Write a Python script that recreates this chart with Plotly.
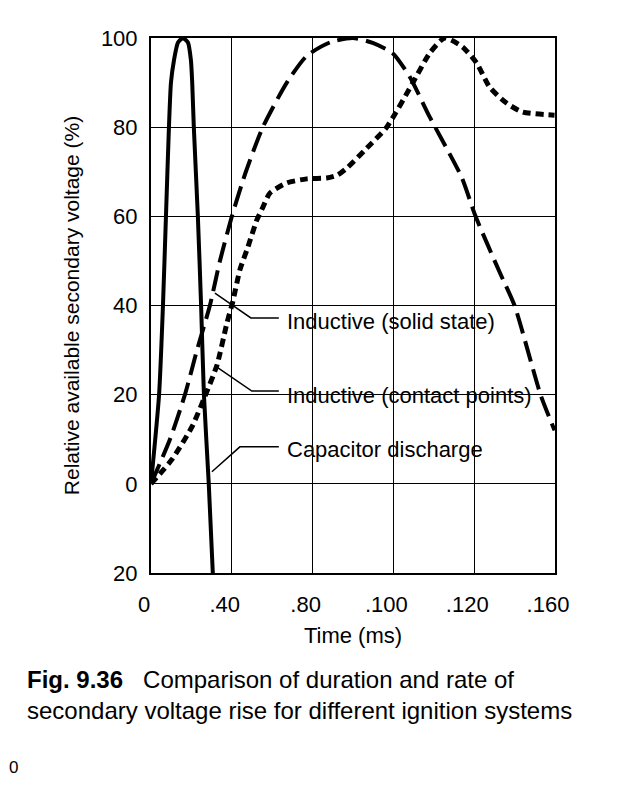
import plotly.graph_objects as go

# x is in grid units (one unit per vertical grid line), labelled as printed
x_ticks = [0, 1, 2, 3, 4, 5]
x_tick_text = ["0", ".40", ".80", ".100", ".120", ".160"]
y_ticks = [-20, 0, 20, 40, 60, 80, 100]
y_tick_text = ["20", "0", "20", "40", "60", "80", "100"]

# Capacitor discharge (solid)
cap_t = [0, 0.10, 0.148, 0.185, 0.222, 0.247, 0.284, 0.334, 0.395, 0.457,
         0.494, 0.51, 0.53, 0.58, 0.62, 0.655, 0.715, 0.765]
cap_v = [0, 20, 40, 60, 80, 90, 95, 99, 100, 99, 95, 90, 80, 60, 40, 20, 0, -20]

# Inductive (solid state) (long dashes)
ss_t = [0, 0.235, 0.42, 0.569, 0.729, 0.853, 1.001, 1.174, 1.384, 1.681, 1.928,
        2.213, 2.497, 2.744, 2.991, 3.202, 3.449, 3.844, 4.017, 4.314, 4.499,
        4.821, 4.994]
ss_v = [0, 10, 20, 30, 40, 50, 60, 70, 80, 90, 96, 99, 100, 98.9, 96.6, 91.3,
        82.3, 68.8, 60, 47.5, 40, 20, 12]

# Inductive (contact points) (short dashes)
cp_t = [0, 0.26, 0.507, 0.667, 0.816, 0.939, 1.014, 1.1, 1.199, 1.31, 1.384,
        1.471, 1.681, 1.928, 2.175, 2.311, 2.435, 2.67, 2.917, 3.239, 3.449,
        3.634, 3.856, 4.03, 4.19, 4.4, 4.598, 4.994]
cp_v = [0, 5.5, 12.8, 19.6, 26.6, 36, 41, 48, 53.1, 59.2, 62, 65.2, 67.5, 68.4,
        68.6, 69.3, 71, 75.3, 80, 89.9, 96.6, 100, 98, 94.4, 89, 85.4, 83.4, 82.7]

labels = ["Inductive (solid state)", "Inductive (contact points)", "Capacitor discharge"]
# leader lines: point on curve, elbow, end of horizontal
leaders = [
    [(0.791, 42.8), (1.236, 37.2), (1.582, 37.2)],
    [(0.816, 26.2), (1.248, 20.8), (1.582, 20.8)],
    [(0.754, 2.7), (1.10, 8.3), (1.582, 8.3)],
]
label_y = [36.4, 19.9, 7.7]

FONT = "Liberation Sans, Arial, sans-serif"

fig = go.Figure()

fig.add_trace(go.Scatter(
    x=cap_t, y=cap_v, mode="lines", name=labels[2],
    line=dict(color="black", width=4, shape="spline", smoothing=0.6),
))
fig.add_trace(go.Scatter(
    x=ss_t, y=ss_v, mode="lines", name=labels[0],
    line=dict(color="black", width=4, dash="21px,8px", shape="spline", smoothing=0.6),
))
fig.add_trace(go.Scatter(
    x=cp_t, y=cp_v, mode="lines", name=labels[1],
    line=dict(color="black", width=5, dash="8px,5px", shape="spline", smoothing=0.6),
))

for pts, text, ly in zip(leaders, labels, label_y):
    path = "M {} {} L {} {} L {} {}".format(pts[0][0], pts[0][1], pts[1][0], pts[1][1],
                                           pts[2][0], pts[2][1])
    fig.add_shape(type="path", path=path, xref="x", yref="y",
                  line=dict(color="black", width=1.5))
    fig.add_annotation(x=1.66, y=ly, xref="x", yref="y", text=text,
                       showarrow=False, xanchor="left", yanchor="middle",
                       font=dict(family=FONT, size=22, color="black"))

fig.add_annotation(
    x=-0.312, y=-0.17, xref="paper", yref="paper", xanchor="left", yanchor="top",
    align="left", showarrow=False,
    text="<b>Fig. 9.36</b>&nbsp;&nbsp;&nbsp;Comparison of duration and rate of<br>"
         "secondary voltage rise for different ignition systems",
    font=dict(family=FONT, size=24, color="black"),
)
# stray page mark in the bottom-left corner of the scan
fig.add_annotation(
    x=-0.356, y=-0.385, xref="paper", yref="paper", xanchor="left", yanchor="bottom",
    showarrow=False, text="0", font=dict(family=FONT, size=17, color="black"),
)

fig.update_xaxes(
    range=[0, 5], tickvals=x_ticks, ticktext=x_tick_text,
    showgrid=True, gridcolor="black", gridwidth=1.3, zeroline=False,
    showline=True, linecolor="black", linewidth=2, mirror=True, ticks="",
    ticklabelshift=-7, ticklabelstandoff=11,
    tickfont=dict(family=FONT, size=22, color="black"),
    title=dict(text="Time (ms)", standoff=11,
               font=dict(family=FONT, size=22, color="black")),
)
fig.update_yaxes(
    range=[-20, 100], tickvals=y_ticks, ticktext=y_tick_text,
    showgrid=True, gridcolor="black", gridwidth=1.3, zeroline=False,
    showline=True, linecolor="black", linewidth=2, mirror=True, ticks="",
    ticklabelstandoff=7,
    tickfont=dict(family=FONT, size=22, color="black"),
    title=dict(text="Relative available secondary voltage (%)", standoff=16,
               font=dict(family=FONT, size=21, color="black")),
)

# the page body has an 8px margin, so the figure is sized to fit inside it
fig.update_layout(
    width=614, height=771,
    margin=dict(l=143, r=67, t=30, b=206),
    paper_bgcolor="white", plot_bgcolor="white",
    showlegend=False,
    font=dict(family=FONT, color="black"),
)

fig.write_html("out.html")
